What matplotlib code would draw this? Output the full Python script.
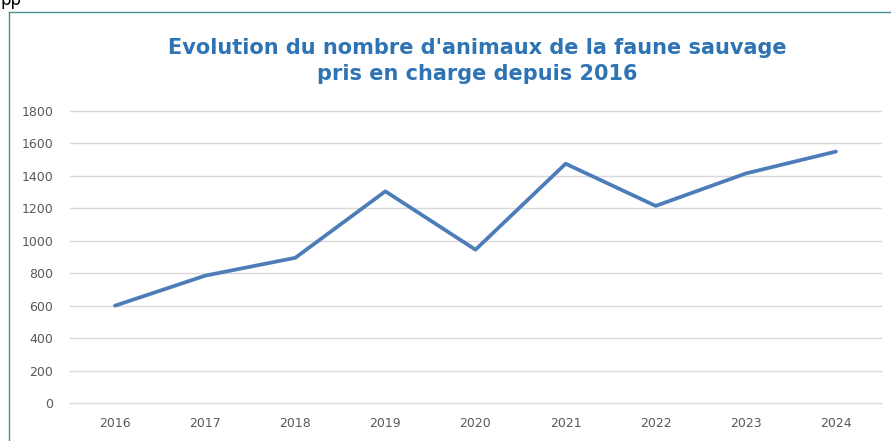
import matplotlib
matplotlib.use('Agg')
import matplotlib.pyplot as plt
from matplotlib.lines import Line2D

# Data
years = ['2016', '2017', '2018', '2019', '2020', '2021', '2022', '2023', '2024']
animals = [600, 785, 895, 1305, 945, 1475, 1215, 1415, 1550]
y_ticks = [0, 200, 400, 600, 800, 1000, 1200, 1400, 1600, 1800]

W, H = 891, 441
fig = plt.figure(figsize=(W / 100, H / 100), dpi=100)
fig.patch.set_facecolor('white')

# axes placed in pixels
x0, x1 = 70, 881
y_top, y_bot = 111, 403
ax = fig.add_axes([x0 / W, 1 - y_bot / H, (x1 - x0) / W, (y_bot - y_top) / H])

x = list(range(len(years)))
ax.plot(x, animals, color='#4d7db8', linewidth=2.7, solid_joinstyle='round',
        solid_capstyle='round', zorder=3)

ax.set_xlim(-0.5, len(years) - 0.5)
ax.set_ylim(0, 1800)
ax.set_yticks(y_ticks)
ax.set_yticklabels([str(v) for v in y_ticks])
ax.set_xticks(x)
ax.set_xticklabels(years)
ax.grid(True, axis='y', color='#d9d9d9', linewidth=1.0)
for gl in ax.yaxis.get_gridlines():
    gl.set_clip_on(False)
ax.set_axisbelow(True)
for s in ax.spines.values():
    s.set_visible(False)
ax.tick_params(axis='both', length=0, labelsize=9, labelcolor='#595959')
ax.tick_params(axis='y', pad=12)
ax.tick_params(axis='x', pad=10)

# title
fig.text(477 / W, 1 - 61 / H,
         "Evolution du nombre d'animaux de la faune sauvage\npris en charge depuis 2016",
         ha='center', va='center', fontsize=15, fontweight='bold',
         color='#2e74b5', linespacing=1.35)

# chart frame (only top and left edges visible in the crop)
fig.add_artist(Line2D([9 / W, 1.0], [1 - 12 / H, 1 - 12 / H],
                      transform=fig.transFigure, color='#4a8f8f', linewidth=1.0))
fig.add_artist(Line2D([9 / W, 9 / W], [0, 1 - 12 / H],
                      transform=fig.transFigure, color='#4a8f8f', linewidth=1.0))

# cut off page text above the chart
fig.text(1 / W, 1 - 5 / H, 'pp', ha='left', va='baseline', fontsize=12, color='black')

fig.savefig('out.png', dpi=100)
